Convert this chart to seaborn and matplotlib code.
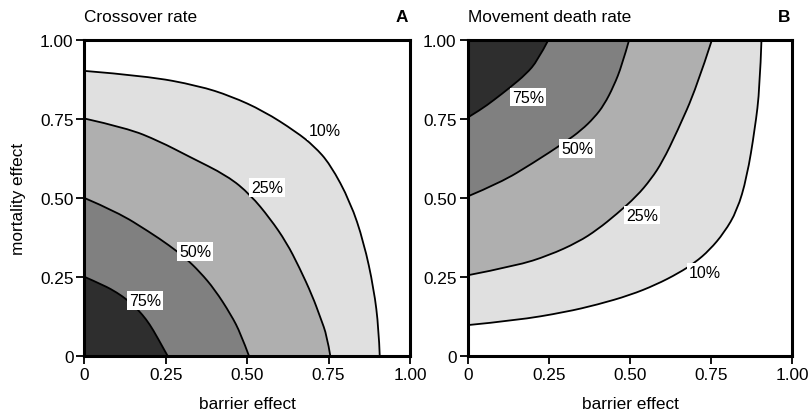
import matplotlib
matplotlib.use("Agg")
import matplotlib.pyplot as plt
from matplotlib.path import Path
from matplotlib.patches import PathPatch
import seaborn as sns

# ---------------- data ----------------
tick_vals = [0, 0.25, 0.5, 0.75, 1.0]
tick_labels = ["0", "0.25", "0.50", "0.75", "1.00"]
levels = ["10%", "25%", "50%", "75%"]
fill_colors = ["#e0e0e0", "#afafaf", "#808080", "#2e2e2e"]

# Panel A: crossover rate contours (barrier effect, mortality effect)
a10_b = [0, 0.19, 0.35, 0.45, 0.55, 0.65, 0.705, 0.755, 0.817, 0.858, 0.889, 0.904, 0.907]
a10_m = [0.903, 0.887, 0.856, 0.823, 0.776, 0.71, 0.665, 0.607, 0.487, 0.36, 0.212, 0.085, 0]
a25_b = [0, 0.13, 0.23, 0.32, 0.44, 0.51, 0.57, 0.62, 0.66, 0.70, 0.725, 0.745, 0.755]
a25_m = [0.752, 0.722, 0.68, 0.632, 0.57, 0.51, 0.435, 0.36, 0.28, 0.19, 0.12, 0.063, 0]
a50_b = [0, 0.10, 0.20, 0.26, 0.31, 0.355, 0.40, 0.45, 0.48, 0.505]
a50_m = [0.5, 0.456, 0.392, 0.35, 0.31, 0.265, 0.21, 0.13, 0.07, 0]
a75_b = [0, 0.06, 0.10, 0.13, 0.155, 0.178, 0.20, 0.223, 0.255]
a75_m = [0.25, 0.223, 0.20, 0.178, 0.155, 0.13, 0.10, 0.06, 0]

# Panel B: movement death rate contours
b10_b = [0, 0.15, 0.30, 0.40, 0.50, 0.58, 0.65, 0.70, 0.745, 0.79, 0.83, 0.86, 0.885, 0.90, 0.905]
b10_m = [0.097, 0.112, 0.138, 0.162, 0.192, 0.225, 0.262, 0.295, 0.335, 0.39, 0.46, 0.565, 0.72, 0.85, 1.0]
b25_b = [0, 0.15, 0.25, 0.34, 0.40, 0.46, 0.52, 0.565, 0.60, 0.645, 0.705, 0.752]
b25_m = [0.255, 0.285, 0.318, 0.36, 0.40, 0.45, 0.505, 0.56, 0.615, 0.71, 0.85, 1.0]
b50_b = [0, 0.10, 0.20, 0.30, 0.35, 0.39, 0.42, 0.45, 0.475, 0.497]
b50_m = [0.505, 0.548, 0.61, 0.677, 0.715, 0.755, 0.795, 0.855, 0.92, 1.0]
b75_b = [0, 0.04, 0.08, 0.13, 0.18, 0.215, 0.248]
b75_m = [0.755, 0.78, 0.81, 0.85, 0.893, 0.935, 1.0]

# label positions (data coords)
a_label_x = [0.738, 0.560, 0.340, 0.186]
a_label_y = [0.715, 0.534, 0.331, 0.174]
b_label_x = [0.731, 0.538, 0.337, 0.185]
b_label_y = [0.265, 0.446, 0.657, 0.820]

titles = ["Crossover rate", "Movement death rate"]
panel_tags = ["A", "B"]


def smooth_path(xs, ys, corner=None):
    """Quadratic B-spline style path through the read points (drawing only)."""
    pts = list(zip(xs, ys))
    verts = [pts[0]]
    codes = [Path.MOVETO]
    n = len(pts)
    for i in range(1, n - 1):
        if i < n - 2:
            end = ((pts[i][0] + pts[i + 1][0]) / 2, (pts[i][1] + pts[i + 1][1]) / 2)
        else:
            end = pts[n - 1]
        verts += [pts[i], end]
        codes += [Path.CURVE3, Path.CURVE3]
    if corner is not None:
        verts += [corner, pts[0]]
        codes += [Path.LINETO, Path.CLOSEPOLY]
    return Path(verts, codes)


# ---------------- style ----------------
sns.set_style("ticks")
plt.rcParams["font.family"] = ["Liberation Sans", "DejaVu Sans"]
plt.rcParams["text.color"] = "black"
plt.rcParams["axes.labelcolor"] = "black"
plt.rcParams["xtick.color"] = "black"
plt.rcParams["ytick.color"] = "black"
FS = 12.4

fig = plt.figure(figsize=(8.12, 4.14), dpi=100)
axA = fig.add_axes([84.5 / 812, 57.3 / 414, 325.5 / 812, 315.4 / 414])
axB = fig.add_axes([467.7 / 812, 57.3 / 414, 324.6 / 812, 315.4 / 414])

panels = [
    (axA, [(a10_b, a10_m), (a25_b, a25_m), (a50_b, a50_m), (a75_b, a75_m)], (0, 0), a_label_x, a_label_y),
    (axB, [(b10_b, b10_m), (b25_b, b25_m), (b50_b, b50_m), (b75_b, b75_m)], (0, 1), b_label_x, b_label_y),
]

for i, (ax, curves, corner, lx, ly) in enumerate(panels):
    for (xs, ys), col in zip(curves, fill_colors):
        ax.add_patch(PathPatch(smooth_path(xs, ys, corner), facecolor=col, lw=0, zorder=1))
    for xs, ys in curves:
        ax.add_patch(PathPatch(smooth_path(xs, ys), facecolor="none", edgecolor="black",
                               lw=1.3, zorder=2, capstyle="butt"))
    for j, lab in enumerate(levels):
        ax.text(lx[j], ly[j], lab, ha="center", va="center", fontsize=11.5, zorder=3,
                color="black",
                bbox=dict(boxstyle="square,pad=0.12", fc="white", ec="none"))
    ax.set_xlim(0, 1)
    ax.set_ylim(0, 1)
    ax.set_xticks(tick_vals)
    ax.set_xticklabels(tick_labels)
    ax.set_yticks(tick_vals)
    ax.set_yticklabels(tick_labels)
    ax.tick_params(axis="both", labelsize=FS, length=6, width=1.3, pad=2,
                   color="black", labelcolor="black")
    for sp in ax.spines.values():
        sp.set_visible(True)
        sp.set_linewidth(2.2)
        sp.set_color("black")
        sp.set_zorder(5)
    ax.set_xlabel("barrier effect", fontsize=FS, labelpad=10, color="black")
    ax.text(0, 1.077, titles[i], transform=ax.transAxes, ha="left", va="center",
            fontsize=FS, color="black")
    ax.text(0.995, 1.077, panel_tags[i], transform=ax.transAxes, ha="right", va="center",
            fontsize=FS, fontweight="bold", color="black")

axA.set_ylabel("mortality effect", fontsize=FS, labelpad=10, color="black")
axB.set_ylabel("")

fig.savefig("out.png", dpi=100)
